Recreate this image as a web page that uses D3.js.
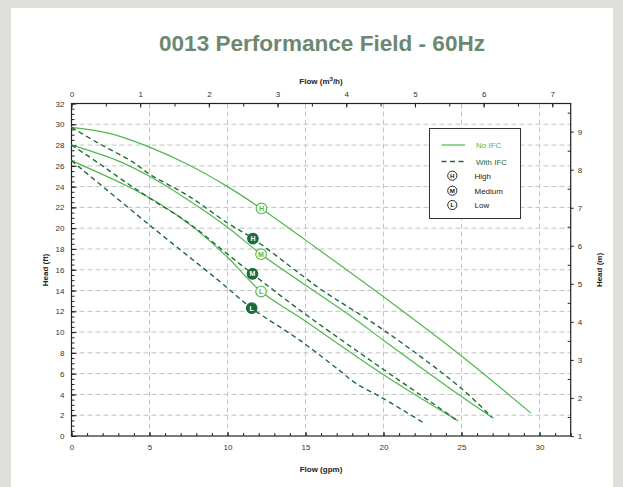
<!DOCTYPE html>
<html><head><meta charset="utf-8">
<script src="https://cdn.jsdelivr.net/npm/d3@7"></script>
<style>
html,body{margin:0;padding:0;background:#dcdfda;}
svg{display:block;}
text{font-family:"Liberation Sans",Arial,sans-serif;}
</style></head>
<body>
<svg id="c" width="623" height="487"></svg>
<script>
// ---- data (flow in gpm, head in ft) ----
const titleText = "0013 Performance Field - 60Hz";
const flowTicksGpm = [0,5,10,15,20,25,30];
const flowTicksM3h = [0,1,2,3,4,5,6,7];
const headTicksFt = [0,2,4,6,8,10,12,14,16,18,20,22,24,26,28,30,32];
const headTicksM = [1,2,3,4,5,6,7,8,9];

const noIfcHighFlow = [0, 2.5, 5, 7.5, 10, 12.2, 15, 20, 25, 29.45];
const noIfcHighHead = [29.7, 29.1, 27.8, 26.1, 24.0, 21.85, 18.85, 13.4, 7.7, 2.2];
const noIfcMedFlow  = [0, 2.8, 5, 7.5, 10, 12.15, 17.85, 20.1, 25, 27.05];
const noIfcMedHead  = [28.0, 26.6, 25.0, 22.7, 20.1, 17.5, 11.6, 9.1, 3.8, 1.7];
const noIfcLowFlow  = [0, 3.5, 5.7, 7.8, 10, 12.15, 14.65, 20, 24.8];
const noIfcLowHead  = [26.5, 24.1, 22.3, 20.1, 17.2, 13.9, 11.4, 5.9, 1.45];

const ifcHighFlow = [0, 1.7, 3.9, 5, 7.5, 10, 11.63, 14.65, 16, 20.1, 24.9, 26.95];
const ifcHighHead = [29.7, 28.2, 26.4, 25.2, 23.1, 20.5, 19.0, 15.6, 14.1, 10.1, 4.7, 1.8];
const ifcMedFlow  = [0, 1.7, 3.3, 5, 7.5, 10, 11.6, 14.65, 20, 23.2, 24.8];
const ifcMedHead  = [28.0, 26.3, 24.6, 22.9, 20.5, 17.5, 15.6, 12.1, 6.4, 3.1, 1.4];
const ifcLowFlow  = [0, 5, 9.4, 11.55, 14.65, 17.1, 18.2, 20, 22.7];
const ifcLowHead  = [26.5, 20.3, 15.0, 12.3, 9.2, 6.4, 5.1, 3.6, 1.15];

const markerLetters = ["H","M","L","H","M","L"];
const markerIfc     = [false,false,false,true,true,true];
const markerFlow    = [12.18, 12.15, 12.15, 11.63, 11.6, 11.55];
const markerHead    = [21.9, 17.5, 13.9, 19.0, 15.6, 12.3];

const legendLabels = ["No IFC","With IFC","High","Medium","Low"];
const legendLetters = ["H","M","L"];

// ---- styles ----
const LIGHT = "#4fb84c", DARK = "#1d6b3b", GRID = "#c3c3c3", AXIS = "#222";
const GPM_PER_M3H = 4.4029;

const svg = d3.select("#c");
svg.append("rect").attr("x",11).attr("y",8).attr("width",602).attr("height",479).attr("fill","#fff");

svg.append("text").attr("x",322).attr("y",51).attr("text-anchor","middle")
  .attr("font-family","'Open Sans',sans-serif").attr("font-weight",700).attr("font-size",22)
  .attr("textLength",326).attr("lengthAdjust","spacingAndGlyphs")
  .attr("fill","#6c8871").text(titleText);

const L=71.5, R=570.7, T=103.5, B=436;
const x = d3.scaleLinear().domain([0,32]).range([L,R]);
const y = d3.scaleLinear().domain([0,32]).range([B,T]);
const xTop = d3.scaleLinear().domain([0,32/GPM_PER_M3H]).range([L,R]);
const yRight = d3.scaleLinear().domain([1,9.74]).range([B,T]);

// grid
const g = svg.append("g");
g.selectAll(".hg").data(headTicksFt.filter(v=>v>0&&v<32)).join("line")
  .attr("x1",L).attr("x2",R).attr("y1",d=>y(d)).attr("y2",d=>y(d))
  .attr("stroke",GRID).attr("stroke-width",1).attr("stroke-dasharray","5,3");
g.selectAll(".vg").data(flowTicksGpm.filter(v=>v>0)).join("line")
  .attr("y1",T).attr("y2",B).attr("x1",d=>x(d)).attr("x2",d=>x(d))
  .attr("stroke",GRID).attr("stroke-width",1).attr("stroke-dasharray","5,3");

function styleAxis(sel){
  sel.select(".domain").remove();
  sel.selectAll("line").attr("stroke",AXIS);
  sel.selectAll("text").attr("font-size",8).attr("fill","#333")
     .attr("font-family","'Liberation Sans',Arial,sans-serif");
}
// bottom
svg.append("g").attr("transform",`translate(0,${B})`)
  .call(d3.axisBottom(x).tickValues(d3.range(0,32.01,1)).tickSize(-3).tickFormat("")).call(styleAxis);
svg.append("g").attr("transform",`translate(0,${B})`)
  .call(d3.axisBottom(x).tickValues(flowTicksGpm).tickSize(-4).tickPadding(8).tickFormat(d3.format("d"))).call(styleAxis);
// top
svg.append("g").attr("transform",`translate(0,${T})`)
  .call(d3.axisTop(xTop).tickValues(d3.range(0,7.26,0.5)).tickSize(-3).tickFormat("")).call(styleAxis);
svg.append("g").attr("transform",`translate(0,${T})`)
  .call(d3.axisTop(xTop).tickValues(flowTicksM3h).tickSize(-4).tickPadding(7).tickFormat(d3.format("d"))).call(styleAxis);
// left
svg.append("g").attr("transform",`translate(${L},0)`)
  .call(d3.axisLeft(y).tickValues(d3.range(0,32.01,0.5)).tickSize(-3).tickFormat("")).call(styleAxis);
svg.append("g").attr("transform",`translate(${L},0)`)
  .call(d3.axisLeft(y).tickValues(headTicksFt).tickSize(-5).tickPadding(7).tickFormat(d3.format("d"))).call(styleAxis);
// right
svg.append("g").attr("transform",`translate(${R},0)`)
  .call(d3.axisRight(yRight).tickValues(d3.range(1.5,9.74,1)).tickSize(-3).tickFormat("")).call(styleAxis);
svg.append("g").attr("transform",`translate(${R},0)`)
  .call(d3.axisRight(yRight).tickValues(headTicksM).tickSize(3).tickPadding(4).tickFormat(d3.format("d"))).call(styleAxis);

// frame
svg.append("rect").attr("x",L).attr("y",T).attr("width",R-L).attr("height",B-T)
  .attr("fill","none").attr("stroke",AXIS).attr("stroke-width",1.2);

// axis titles
svg.append("text").attr("x",321).attr("y",472).attr("text-anchor","middle")
  .attr("font-size",8).attr("font-weight",700).attr("fill","#222").text("Flow (gpm)");
const tt = svg.append("text").attr("x",321).attr("y",84).attr("text-anchor","middle")
  .attr("font-size",8).attr("font-weight",700).attr("fill","#222");
tt.append("tspan").text("Flow (m");
tt.append("tspan").attr("dy",-3).attr("font-size",6).text("3");
tt.append("tspan").attr("dy",3).text("/h)");
svg.append("text").attr("transform","translate(48,270) rotate(-90)").attr("text-anchor","middle")
  .attr("font-size",8).attr("font-weight",700).attr("fill","#222").text("Head (ft)");
svg.append("text").attr("transform","translate(602,270) rotate(-90)").attr("text-anchor","middle")
  .attr("font-size",8).attr("font-weight",700).attr("fill","#222").text("Head (m)");

// curves
const line = d3.line().x(d=>x(d[0])).y(d=>y(d[1])).curve(d3.curveCatmullRom.alpha(0.5));
const series = [
  [noIfcHighFlow,noIfcHighHead,false],[noIfcMedFlow,noIfcMedHead,false],[noIfcLowFlow,noIfcLowHead,false],
  [ifcHighFlow,ifcHighHead,true],[ifcMedFlow,ifcMedHead,true],[ifcLowFlow,ifcLowHead,true]
];
const cg = svg.append("g");
series.forEach(([f,h,ifc])=>{
  cg.append("path").attr("d",line(f.map((v,i)=>[v,h[i]])))
    .attr("fill","none").attr("stroke",ifc?DARK:LIGHT).attr("stroke-width",ifc?1.4:1.2)
    .attr("stroke-dasharray",ifc?"5,3.5":null);
});

// markers
markerLetters.forEach((ch,i)=>{
  const mx=x(markerFlow[i]), my=y(markerHead[i]), ifc=markerIfc[i];
  svg.append("circle").attr("cx",mx).attr("cy",my).attr("r",5.3)
    .attr("fill",ifc?DARK:"#fff").attr("stroke",ifc?DARK:LIGHT).attr("stroke-width",1.1);
  svg.append("text").attr("x",mx).attr("y",my+2.5).attr("text-anchor","middle")
    .attr("font-size",7).attr("font-weight",700).attr("fill",ifc?"#fff":LIGHT).text(ch);
});

// legend
const lg = svg.append("g");
lg.append("rect").attr("x",429.5).attr("y",128.5).attr("width",91).attr("height",90)
  .attr("fill","#fff").attr("stroke","#333").attr("stroke-width",1);
lg.append("line").attr("x1",441.5).attr("x2",465).attr("y1",145).attr("y2",145).attr("stroke",LIGHT).attr("stroke-width",1.2);
lg.append("line").attr("x1",441.5).attr("x2",465).attr("y1",161.5).attr("y2",161.5).attr("stroke",DARK).attr("stroke-width",1.4).attr("stroke-dasharray","5,3.5");
lg.append("text").attr("x",476).attr("y",148).attr("font-size",8).attr("fill",LIGHT).text(legendLabels[0]);
lg.append("text").attr("x",476).attr("y",164.5).attr("font-size",8).attr("fill",DARK).text(legendLabels[1]);
legendLetters.forEach((ch,i)=>{
  const cy=[175.7,190.7,205][i];
  lg.append("circle").attr("cx",452.3).attr("cy",cy).attr("r",4.6).attr("fill","#fff").attr("stroke","#111").attr("stroke-width",0.9);
  lg.append("text").attr("x",452.3).attr("y",cy+2.3).attr("text-anchor","middle").attr("font-size",6.2).attr("font-weight",700).attr("fill","#111").text(ch);
  lg.append("text").attr("x",474.5).attr("y",cy+2.8).attr("font-size",8).attr("fill","#222").text(legendLabels[2+i]);
});
</script>
</body></html>
